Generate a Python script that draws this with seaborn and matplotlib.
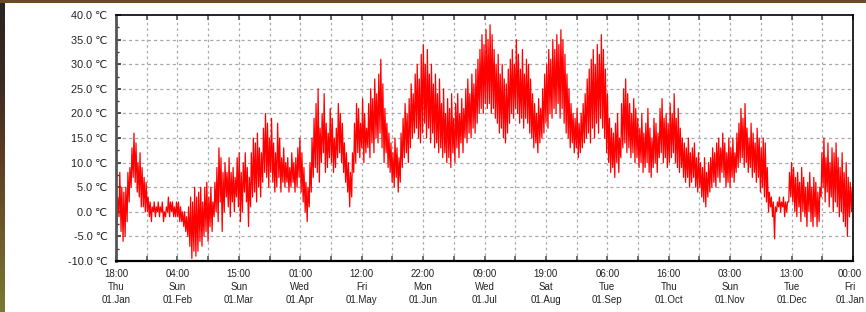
import numpy as np
import pandas as pd
import matplotlib
matplotlib.use("Agg")
import matplotlib.pyplot as plt
import matplotlib.transforms as mtransforms
from matplotlib.colors import LinearSegmentedColormap
import seaborn as sns

# ---- daily low / high temperatures (°C) ----
lo_jan = [-6, -3, -1, -4, -6, -5, -2, 2, 5, 7, 6, 4, 3, 1, 1, 0, 0, -1, -2, 0, -1, 0, -1, 0, -2, -1, 0, -1, 0, -1, -1]
hi_jan = [-2, 3, 8, 5, 4, 5, 8, 9, 13, 16, 14, 10, 12, 9, 7, 6, 3, 2, 1, 2, 1, 2, 1, 2, 0, 1, 3, 2, 2, 1, 2]
lo_feb = [-1, -2, -2, -3, -4, -5, -7, -9.5, -8, -9, -8, -6, -7, -5, -4, -6, -3, -4, -1, 0, -2, 2, -4, 0, 3, 1, -1, 2]
hi_feb = [2, 1, 0, 0, -1, 1, 3, 2, 5, 3, 4, 5, 2, 5, 6, 3, 5, 2, 6, 9, 13, 11, 8, 10, 8, 11, 8, 9]
lo_mar = [0, 3, 1, -2, 0, 4, 2, -3, 1, 3, 4, 2, 5, 3, 6, 8, 7, 5, 8, 6, 4, 5, 7, 4, 6, 5, 6, 4, 5, 6, 4]
hi_mar = [7, 11, 12, 8, 10, 12, 9, 7, 12, 15, 14, 16, 13, 12, 17, 20, 18, 15, 19, 14, 12, 18, 15, 11, 13, 10, 11, 9, 12, 10, 11]
lo_apr = [5, 7, 4, 2, 0, -2, 1, 4, 7, 9, 8, 6, 10, 12, 8, 9, 11, 10, 8, 9, 11, 12, 10, 8, 6, 4, 1, 3, 8, 10]
hi_apr = [13, 15, 12, 9, 6, 5, 10, 15, 19, 22, 25, 17, 20, 24, 18, 16, 21, 19, 15, 17, 22, 20, 18, 14, 12, 10, 8, 12, 18, 22]
lo_may = [12, 11, 13, 10, 12, 13, 11, 14, 12, 15, 14, 16, 13, 10, 12, 9, 8, 6, 5, 7, 4, 6, 9, 11, 12, 10, 13, 15, 16, 17, 15]
hi_may = [21, 18, 23, 20, 17, 22, 25, 23, 27, 24, 28, 31, 26, 21, 18, 16, 14, 12, 15, 13, 11, 16, 19, 22, 20, 23, 26, 24, 28, 30, 27]
lo_jun = [14, 16, 18, 15, 17, 14, 16, 13, 14, 12, 13, 11, 12, 10, 11, 9, 12, 10, 13, 11, 14, 12, 15, 14, 16, 15, 17, 16, 18, 20]
hi_jun = [32, 34, 30, 33, 28, 30, 26, 28, 24, 27, 22, 25, 20, 23, 21, 24, 19, 22, 24, 20, 23, 21, 25, 27, 24, 28, 26, 29, 31, 33]
lo_jul = [21, 20, 22, 21, 22, 20, 21, 19, 18, 16, 17, 15, 14, 16, 18, 20, 19, 21, 20, 18, 19, 17, 19, 18, 16, 15, 13, 14, 12, 14, 15]
hi_jul = [36, 34, 37, 35, 38, 36, 33, 30, 32, 28, 30, 27, 26, 29, 31, 33, 30, 35, 32, 29, 33, 28, 31, 30, 27, 24, 22, 20, 23, 21, 25]
lo_aug = [16, 18, 17, 20, 19, 21, 20, 22, 19, 21, 18, 16, 15, 13, 14, 12, 13, 11, 12, 13, 14, 15, 16, 14, 17, 15, 18, 16, 19, 17, 15]
hi_aug = [28, 30, 33, 31, 35, 33, 36, 34, 37, 35, 32, 28, 25, 22, 20, 19, 21, 18, 20, 22, 24, 27, 29, 31, 33, 30, 34, 32, 36, 33, 29]
lo_sep = [12, 10, 8, 9, 7, 10, 8, 11, 13, 14, 12, 13, 11, 12, 10, 11, 9, 10, 8, 9, 10, 8, 7, 9, 10, 8, 11, 12, 10, 11]
hi_sep = [24, 19, 17, 16, 18, 20, 15, 22, 25, 27, 24, 22, 20, 23, 21, 19, 17, 20, 16, 18, 21, 17, 15, 19, 18, 16, 21, 23, 19, 20]
lo_oct = [9, 10, 11, 12, 10, 9, 8, 9, 7, 6, 7, 5, 6, 7, 5, 4, 5, 3, 2, 1, 3, 4, 5, 6, 5, 7, 6, 8, 7, 5, 6]
hi_oct = [18, 22, 20, 24, 19, 21, 17, 15, 14, 13, 15, 12, 13, 14, 11, 12, 10, 9, 11, 8, 10, 11, 13, 12, 14, 15, 13, 16, 14, 12, 15]
lo_nov = [5, 7, 6, 8, 9, 10, 11, 9, 10, 8, 9, 7, 8, 6, 7, 4, 5, 3, 2, 0, 1, -1, -5.5, 0, 1, 0, 1, -1, 0, 2]
hi_nov = [13, 15, 12, 16, 18, 21, 19, 22, 17, 15, 18, 16, 14, 17, 15, 13, 15, 14, 9, 4, 3, 2, 1, 2, 3, 2, 3, 2, 2, 8]
lo_dec = [3, 2, 0, -1, 1, -2, 0, -1, -3, 0, -2, -3, -1, -3, -2, 3, 5, 2, 4, 1, 3, 0, 2, 1, -1, 0, -2, -3, -5, -1, 0]
hi_dec = [10, 9, 7, 8, 6, 9, 7, 5, 6, 8, 5, 7, 6, 4, 5, 12, 15, 11, 14, 10, 13, 12, 14, 11, 9, 12, 8, 10, 7, 6, 5]

tick_times = ["18:00", "04:00", "15:00", "01:00", "12:00", "22:00", "09:00",
              "19:00", "06:00", "16:00", "03:00", "13:00", "00:00"]
tick_days = ["Thu", "Sun", "Sun", "Wed", "Fri", "Mon", "Wed", "Sat", "Tue",
             "Thu", "Sun", "Tue", "Fri"]
tick_dates = ["01.Jan", "01.Feb", "01.Mar", "01.Apr", "01.May", "01.Jun", "01.Jul",
              "01.Aug", "01.Sep", "01.Oct", "01.Nov", "01.Dec", "01.Jan"]
y_ticks = [-10, -5, 0, 5, 10, 15, 20, 25, 30, 35, 40]

lows = lo_jan + lo_feb + lo_mar + lo_apr + lo_may + lo_jun + lo_jul + lo_aug + lo_sep + lo_oct + lo_nov + lo_dec
highs = hi_jan + hi_feb + hi_mar + hi_apr + hi_may + hi_jun + hi_jul + hi_aug + hi_sep + hi_oct + hi_nov + hi_dec

times, temps = [], []
for d, (lo, hi) in enumerate(zip(lows, highs)):
    times += [d + 0.25, d + 0.625]
    temps += [lo, hi]
df = pd.DataFrame({"day": times, "temp": temps})

sns.set_style("white")
plt.rcParams["font.family"] = ["Liberation Sans", "DejaVu Sans"]

fig = plt.figure(figsize=(8.66, 3.12), dpi=100)
fig.patch.set_facecolor("white")

# decorative frame edges (left gradient strip, top strip)
ax_l = fig.add_axes([0, 0, 5 / 866, 1])
grad = np.linspace(0, 1, 256).reshape(-1, 1)
cm = LinearSegmentedColormap.from_list("edge", ["#2a2420", "#3a2a22", "#5c3c22", "#6e5a2a", "#7a7a34"])
ax_l.imshow(grad, aspect="auto", cmap=cm, extent=[0, 1, 0, 1], origin="upper")
ax_l.axis("off")
ax_t = fig.add_axes([0, 1 - 2.5 / 312, 1, 2.5 / 312])
ax_t.set_facecolor("#6a4a22")
ax_t.set_xticks([]); ax_t.set_yticks([])
for s in ax_t.spines.values():
    s.set_visible(False)

L, R, T, B = 116 / 866, 853 / 866, 1 - 15 / 312, 1 - 261 / 312
ax = fig.add_axes([L, B, R - L, T - B])
ax.set_facecolor("white")

sns.lineplot(data=df, x="day", y="temp", ax=ax, color="#ff0000", linewidth=0.9,
             estimator=None, sort=False, legend=False)

x0, x1 = 0.75, 365.0
ax.set_xlim(x0, x1)
ax.set_ylim(-10, 40)

xt = np.linspace(x0, x1, 25)
ax.set_xticks(xt)
labels = []
for i in range(25):
    if i % 2 == 0:
        k = i // 2
        labels.append(f"{tick_times[k]}\n{tick_days[k]}\n{tick_dates[k]}")
    else:
        labels.append("")
ax.set_xticklabels(labels, fontsize=7.0, color="#222222", linespacing=1.35)
ax.set_yticks(y_ticks)
ax.set_yticklabels([f"{v:.1f} \u2103" for v in y_ticks], fontsize=7.8, color="#222222")
ax.set_yticks(np.arange(-7.5, 40, 5), minor=True)

ax.tick_params(axis="x", direction="in", length=3.5, width=1.2, color="#555555",
               top=True, bottom=True, pad=6)
ax.tick_params(axis="y", which="major", direction="in", length=3.5, width=1.2,
               color="#333333", left=True, right=False, pad=6)
ax.tick_params(axis="y", which="minor", direction="in", length=2, width=1,
               color="#333333", left=True, right=False)

# nudge the last x label slightly left so it stays inside the figure
last = ax.get_xticklabels()[-1]
last.set_transform(last.get_transform() +
                   mtransforms.ScaledTranslation(-3 / 100, 0, fig.dpi_scale_trans))

ax.set_xlabel("")
ax.set_ylabel("")
for x in xt[1:-1]:
    ax.axvline(x, color="#a8a8a8", lw=0.9, ls=(0, (2, 2.5)), zorder=0)
for y in y_ticks[1:-1]:
    ax.axhline(y, color="#a8a8a8", lw=0.9, ls=(0, (2.5, 2.5)), zorder=0)

for name, sp in ax.spines.items():
    sp.set_visible(True)
    sp.set_color("black")
    sp.set_linewidth(1.2)
ax.spines["left"].set_linewidth(2.0)
ax.spines["left"].set_color("#555555")
ax.spines["bottom"].set_linewidth(1.6)

fig.savefig("out.png", dpi=100)
